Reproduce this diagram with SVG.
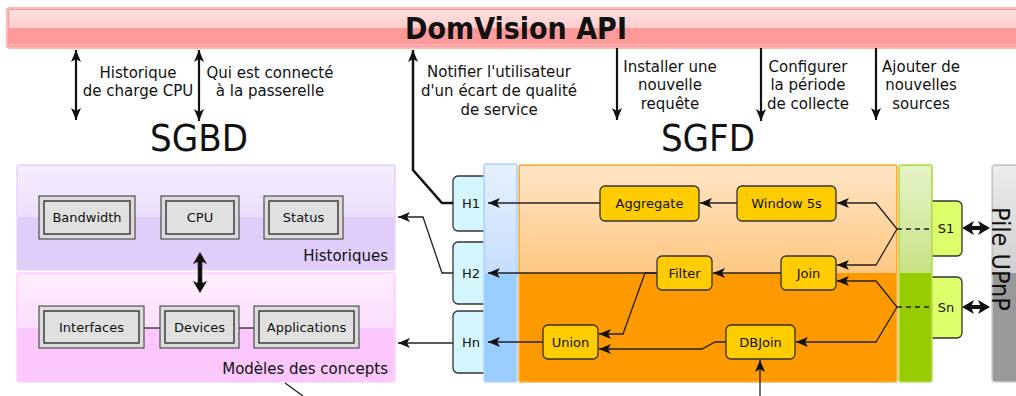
<svg xmlns="http://www.w3.org/2000/svg" width="1016" height="396" viewBox="0 0 1016 396">
<style>
text{font-family:"DejaVu Sans","Liberation Sans",sans-serif;fill:#111}
.lbl{font-size:15px;text-anchor:middle}
.big{font-family:"DejaVu Sans Condensed","DejaVu Sans",sans-serif;font-size:38px;text-anchor:middle}
.nd{font-size:13px;text-anchor:middle}
.pl{font-size:15px;text-anchor:end}
.op rect{fill:#ffcc00;stroke:#333;stroke-width:1.3}
.gb .o{fill:#dcdcdc;stroke:#333;stroke-width:1}
.gb .i{fill:#e0e0e0;stroke:#333;stroke-width:1.4}
.hb{fill:#d4f6ff;stroke:#333;stroke-width:1.3}
.sb{fill:#dcff6a;stroke:#333;stroke-width:1.3}
.c{fill:none;stroke:#222;stroke-width:1.3}
.ca{fill:none;stroke:#222;stroke-width:1.3;marker-end:url(#ah)}
.t{fill:none;stroke:#111;stroke-width:2.2}
.dash{fill:none;stroke:#222;stroke-width:1.3;stroke-dasharray:5 4}
</style>
<defs>
<marker id="ah" viewBox="0 0 12 10" refX="12" refY="5" markerWidth="12" markerHeight="10" markerUnits="userSpaceOnUse" orient="auto-start-reverse"><path d="M0,0 L12,5 L0,10 L3,5 z" fill="#111"/></marker>
<marker id="ahb" viewBox="0 0 12 14" refX="3" refY="7" markerWidth="12" markerHeight="14" markerUnits="userSpaceOnUse" orient="auto-start-reverse"><path d="M0,0 L12,7 L0,14 L3,7 z" fill="#111"/></marker>
<linearGradient id="gBan" x1="0" y1="0" x2="0" y2="1"><stop offset="0" stop-color="#ffe0e0"/><stop offset="1" stop-color="#ffcdcd"/></linearGradient>
<linearGradient id="gBlue" x1="0" y1="0" x2="0" y2="1"><stop offset="0" stop-color="#e6f1ff"/><stop offset="1" stop-color="#c6defd"/></linearGradient>
<linearGradient id="gOr" x1="0" y1="0" x2="0" y2="1"><stop offset="0" stop-color="#ffe5c6"/><stop offset="1" stop-color="#ffc882"/></linearGradient>
<linearGradient id="gGr" x1="0" y1="0" x2="0" y2="1"><stop offset="0" stop-color="#e6f3c8"/><stop offset="1" stop-color="#c8e286"/></linearGradient>
<linearGradient id="gGy" x1="0" y1="0" x2="0" y2="1"><stop offset="0" stop-color="#ececec"/><stop offset="1" stop-color="#cfcfcf"/></linearGradient>
<linearGradient id="gHi" x1="0" y1="0" x2="0" y2="1"><stop offset="0" stop-color="#f5eefd"/><stop offset="1" stop-color="#ebdffb"/></linearGradient>
<linearGradient id="gMo" x1="0" y1="0" x2="0" y2="1"><stop offset="0" stop-color="#feedfe"/><stop offset="1" stop-color="#fce0fc"/></linearGradient>
</defs>

<g id="api">
<rect x="7" y="8" width="1020" height="40" rx="3" fill="#ff9a9a" stroke="#ffb6b6" stroke-width="2"/>
<rect x="9" y="10" width="1016" height="18" fill="url(#gBan)"/>
<line x1="9" y1="45" x2="1016" y2="45" stroke="#ffc4c4" stroke-width="1"/>
<text x="516" y="39" style="font-family:'DejaVu Sans Condensed','DejaVu Sans',sans-serif;font-size:30px;font-weight:bold;text-anchor:middle">DomVision API</text>
</g>

<g id="sgbd-title"><text class="big" x="199" y="151">SGBD</text></g>
<g id="sgfd-title"><text class="big" x="708" y="151">SGFD</text></g>

<g id="historiques">
<rect x="17" y="165" width="378" height="105" rx="2" fill="#e1cdfa" stroke="#e8d6fb" stroke-width="1.5"/>
<rect x="18" y="166" width="376" height="51" fill="url(#gHi)"/>
<text class="pl" x="388" y="261">Historiques</text>
</g>
<g id="modeles">
<rect x="17" y="273" width="378" height="109" rx="2" fill="#fcc7fc" stroke="#fbd3fb" stroke-width="1.5"/>
<rect x="18" y="274" width="376" height="54" fill="url(#gMo)"/>
<text class="pl" x="388" y="374">Modèles des concepts</text>
</g>

<g id="bandwidth" class="gb"><rect class="o" x="39" y="196" width="96" height="43"/><rect class="i" x="44" y="201" width="86" height="33"/><text class="nd" x="87" y="222">Bandwidth</text></g>
<g id="cpu" class="gb"><rect class="o" x="161" y="196" width="78" height="43"/><rect class="i" x="166" y="201" width="68" height="33"/><text class="nd" x="200" y="222">CPU</text></g>
<g id="status" class="gb"><rect class="o" x="264" y="196" width="79" height="43"/><rect class="i" x="269" y="201" width="69" height="33"/><text class="nd" x="303.5" y="222">Status</text></g>
<g id="interfaces" class="gb"><rect class="o" x="39" y="306" width="105" height="42"/><rect class="i" x="44" y="311" width="95" height="32"/><text class="nd" x="91.5" y="332">Interfaces</text></g>
<g id="devices" class="gb"><rect class="o" x="160" y="306" width="79" height="42"/><rect class="i" x="165" y="311" width="69" height="32"/><text class="nd" x="199.5" y="332">Devices</text></g>
<g id="applications" class="gb"><rect class="o" x="254" y="306" width="105" height="42"/><rect class="i" x="259" y="311" width="95" height="32"/><text class="nd" x="306.5" y="332">Applications</text></g>

<g id="h1"><rect class="hb" x="453" y="176" width="40" height="55" rx="5"/><text class="nd" x="471" y="208">H1</text></g>
<g id="h2"><rect class="hb" x="453" y="242" width="40" height="62" rx="5"/><text class="nd" x="471" y="278">H2</text></g>
<g id="hn"><rect class="hb" x="453" y="311" width="40" height="62" rx="5"/><text class="nd" x="471" y="347">Hn</text></g>

<g id="historiques-col">
<rect x="484" y="164" width="33" height="218" rx="2" fill="#99ccff" stroke="#b3d5ff" stroke-width="1.5"/>
<rect x="485" y="165" width="31" height="108" fill="url(#gBlue)"/>
</g>
<g id="sgfd">
<rect x="519" y="165" width="378" height="217" rx="2" fill="#ff9900" stroke="#ffb04a" stroke-width="1.5"/>
<rect x="520" y="166" width="376" height="107" fill="url(#gOr)"/>
</g>
<g id="s1"><rect class="sb" x="922" y="201" width="40" height="55" rx="5"/><text class="nd" x="946" y="233">S1</text></g>
<g id="sn"><rect class="sb" x="922" y="277" width="40" height="61" rx="5"/><text class="nd" x="946" y="312">Sn</text></g>
<g id="sources-col">
<rect x="899" y="165" width="33" height="217" rx="2" fill="#99cc00" stroke="#b6e05c" stroke-width="1.5"/>
<rect x="900" y="166" width="31" height="107" fill="url(#gGr)"/>
</g>

<g id="pile">
<rect x="992" y="165" width="40" height="217" rx="3" fill="#999" stroke="#cfcfcf" stroke-width="1.5"/>
<rect x="993" y="166" width="38" height="107" fill="url(#gGy)"/>
<text transform="translate(992,207) rotate(90)" style="font-family:'DejaVu Sans Condensed','DejaVu Sans',sans-serif;font-size:25px">Pile UPnP</text>
</g>

<g id="connectors">
<line class="t" x1="76" y1="50" x2="76" y2="120" marker-start="url(#ah)" marker-end="url(#ah)"/>
<line class="t" x1="199" y1="50" x2="199" y2="121" marker-start="url(#ah)" marker-end="url(#ah)"/>
<line class="t" x1="617" y1="48" x2="617" y2="120" marker-end="url(#ah)"/>
<line class="t" x1="761" y1="48" x2="761" y2="121" marker-end="url(#ah)"/>
<line class="t" x1="876" y1="48" x2="876" y2="120" marker-end="url(#ah)"/>
<path d="M453,203 H442 L413,170 V50" fill="none" stroke="#111" stroke-width="2.5" marker-end="url(#ah)"/>

<line x1="200" y1="261" x2="200" y2="284" stroke="#111" stroke-width="4.5" marker-start="url(#ahb)" marker-end="url(#ahb)"/>
<line x1="971" y1="228" x2="981" y2="228" stroke="#111" stroke-width="4" marker-start="url(#ahb)" marker-end="url(#ahb)"/>
<line x1="971" y1="307" x2="981" y2="307" stroke="#111" stroke-width="4" marker-start="url(#ahb)" marker-end="url(#ahb)"/>

<line x1="144" y1="328" x2="160" y2="328" stroke="#444" stroke-width="1.5"/>
<line x1="239" y1="328" x2="254" y2="328" stroke="#444" stroke-width="1.5"/>

<path class="ca" d="M453,273 H442 L423,217 H398"/>
<path class="ca" d="M453,343 H398"/>
<path class="c" d="M285,383 L303,396"/>

<path class="ca" d="M600,203 H488"/>
<path class="ca" d="M737,203 H700"/>
<path class="dash" d="M897,229 H932"/>
<path class="ca" d="M897,229 L876,203 H837"/>
<path class="ca" d="M897,229 L876,265 H837"/>
<path class="dash" d="M897,307 H932"/>
<path class="ca" d="M897,307 L876,281 H837"/>
<path class="ca" d="M897,307 L876,342 H796"/>
<path class="ca" d="M781,273 H713"/>
<path class="ca" d="M657,273 H488"/>
<path class="ca" d="M657,273 H645 L623,334 H599"/>
<path class="ca" d="M726,342 H715 L702,349 H599"/>
<path class="ca" d="M543,342 H488"/>
<path class="ca" d="M760,396 V360"/>
</g>

<g id="aggregate" class="op"><rect x="600" y="186" width="99" height="35" rx="5"/><text class="nd" x="649.5" y="208">Aggregate</text></g>
<g id="window" class="op"><rect x="737" y="186" width="99" height="35" rx="5"/><text class="nd" x="786.5" y="208">Window 5s</text></g>
<g id="filter" class="op"><rect x="657" y="256" width="55" height="34" rx="5"/><text class="nd" x="684.5" y="278">Filter</text></g>
<g id="join" class="op"><rect x="781" y="256" width="55" height="34" rx="5"/><text class="nd" x="808.5" y="278">Join</text></g>
<g id="union" class="op"><rect x="543" y="325" width="55" height="34" rx="5"/><text class="nd" x="570.5" y="347">Union</text></g>
<g id="dbjoin" class="op"><rect x="726" y="325" width="69" height="34" rx="5"/><text class="nd" x="760.5" y="347">DBJoin</text></g>

<g id="labels">
<text class="lbl" x="138" y="78">Historique</text>
<text class="lbl" x="138" y="96">de charge CPU</text>
<text class="lbl" x="270" y="78">Qui est connecté</text>
<text class="lbl" x="270" y="96">à la passerelle</text>
<text class="lbl" x="499" y="77">Notifier l'utilisateur</text>
<text class="lbl" x="499" y="96">d'un écart de qualité</text>
<text class="lbl" x="499" y="115">de service</text>
<text class="lbl" x="670" y="72">Installer une</text>
<text class="lbl" x="670" y="90">nouvelle</text>
<text class="lbl" x="670" y="109">requête</text>
<text class="lbl" x="808" y="72">Configurer</text>
<text class="lbl" x="808" y="90">la période</text>
<text class="lbl" x="808" y="109">de collecte</text>
<text class="lbl" x="921" y="72">Ajouter de</text>
<text class="lbl" x="921" y="90">nouvelles</text>
<text class="lbl" x="921" y="109">sources</text>
</g>
</svg>
